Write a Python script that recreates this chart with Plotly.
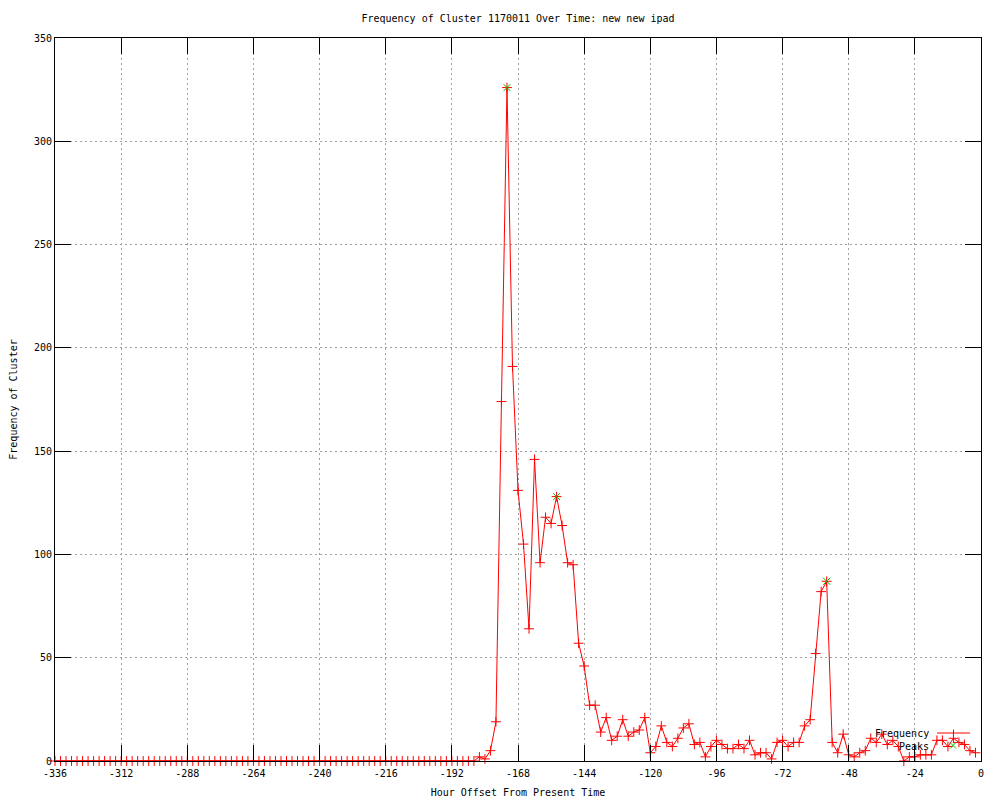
import plotly.graph_objects as go

# ---- data (hour offsets every 2 hours) ----
hours = list(range(-336, 0, 2))  # -336 .. -2

zero_part = [0] * 77  # -336 .. -184
active_part = [
    2, 1, 5, 19, 174, 326, 191, 131, 105, 64,      # -182 .. -164
    146, 96, 118, 115, 128, 114, 96, 95, 57, 46,   # -162 .. -144
    27, 27, 14, 21, 10, 12, 20, 12, 14, 15,        # -142 .. -124
    21, 4, 7, 17, 9, 7, 11, 16, 18, 8,             # -122 .. -104
    9, 2, 7, 10, 8, 6, 6, 8, 6, 10,                # -102 .. -84
    3, 4, 4, 1, 9, 10, 7, 9, 9, 17,                # -82 .. -64
    20, 52, 82, 87, 9, 4, 13, 3, 2, 4,             # -62 .. -44
    5, 11, 9, 13, 8, 10, 7, 0, 2, 2,               # -42 .. -24
    3, 3, 3, 10, 10, 7, 11, 9, 8, 5,               # -22 .. -4
    4,                                             # -2
]
frequency = zero_part + active_part

peak_hours = [-172, -154, -56]
peak_values = [326, 128, 87]

x_ticks = list(range(-336, 1, 24))
y_ticks = list(range(0, 351, 50))

title_text = "Frequency of Cluster 1170011 Over Time: new new ipad"
x_title = "Hour Offset From Present Time"
y_title = "Frequency of Cluster"

RED = "#ff0000"
GREEN = "#00c000"
FONT = "DejaVu Sans Mono"

# page body has an 8px default margin; compensate so the plot lands where the reference has it
OFF = 8

fig = go.Figure()
fig.add_trace(go.Scatter(
    x=hours, y=frequency, mode="lines+markers", name="Frequency",
    line=dict(color=RED, width=1),
    marker=dict(symbol="cross-thin", size=7, color=RED, line=dict(color=RED, width=1)),
    cliponaxis=False, showlegend=False,
))
fig.add_trace(go.Scatter(
    x=peak_hours, y=peak_values, mode="markers", name="Peaks",
    marker=dict(symbol="x-thin", size=7, color=GREEN, line=dict(color=GREEN, width=1)),
    cliponaxis=False, showlegend=False,
))

axis_common = dict(
    showline=True, linecolor="black", linewidth=1, mirror="ticks",
    ticks="inside", ticklen=16, tickcolor="black", tickwidth=1,
    showgrid=True, gridcolor="#a0a0a0", gridwidth=1, griddash="2px,3px",
    zeroline=False, automargin=False,
    tickfont=dict(family=FONT, size=10, color="black"),
)

fig.update_xaxes(
    range=[-336, 0], tickvals=x_ticks, ticktext=[str(v) for v in x_ticks],
    ticklabelstandoff=3,
    title=dict(text=x_title, font=dict(family=FONT, size=10, color="black"), standoff=10),
    **axis_common,
)
fig.update_yaxes(
    range=[0, 350], tickvals=y_ticks, ticktext=[str(v) for v in y_ticks],
    title=dict(text=y_title, font=dict(family=FONT, size=10, color="black"), standoff=14),
    **axis_common,
)

# ---- gnuplot-style key (text left, sample right) ----
def px(xp):
    return (xp - 55) / 926.0

def py(yp):
    return (761 - yp) / 723.0

fig.add_annotation(x=px(931), y=py(733), xref="paper", yref="paper", text="Frequency",
                   showarrow=False, xanchor="right", yanchor="middle",
                   font=dict(family=FONT, size=10, color="black"))
fig.add_annotation(x=px(931), y=py(746), xref="paper", yref="paper", text="Peaks",
                   showarrow=False, xanchor="right", yanchor="middle",
                   font=dict(family=FONT, size=10, color="black"))
shapes = [
    dict(type="line", xref="paper", yref="paper", x0=px(937), x1=px(970), y0=py(733), y1=py(733),
         line=dict(color=RED, width=1)),
    dict(type="line", xref="paper", yref="paper", x0=px(953.5), x1=px(953.5), y0=py(729.5), y1=py(736.5),
         line=dict(color=RED, width=1)),
    dict(type="line", xref="paper", yref="paper", x0=px(950), x1=px(956), y0=py(742.5), y1=py(748.5),
         line=dict(color=GREEN, width=1)),
    dict(type="line", xref="paper", yref="paper", x0=px(950), x1=px(956), y0=py(748.5), y1=py(742.5),
         line=dict(color=GREEN, width=1)),
]

fig.update_layout(
    width=1000, height=800,
    margin=dict(l=55 - OFF, r=1000 - (981 - OFF), t=38 - OFF, b=800 - (761 - OFF)),
    paper_bgcolor="white", plot_bgcolor="white",
    title=dict(text=title_text, x=0.5, xref="paper", xanchor="center",
               y=1 - (18 - OFF) / 800, yref="container", yanchor="middle",
               font=dict(family=FONT, size=10, color="black")),
    shapes=shapes,
    showlegend=False,
)

fig.write_html("out.html")
